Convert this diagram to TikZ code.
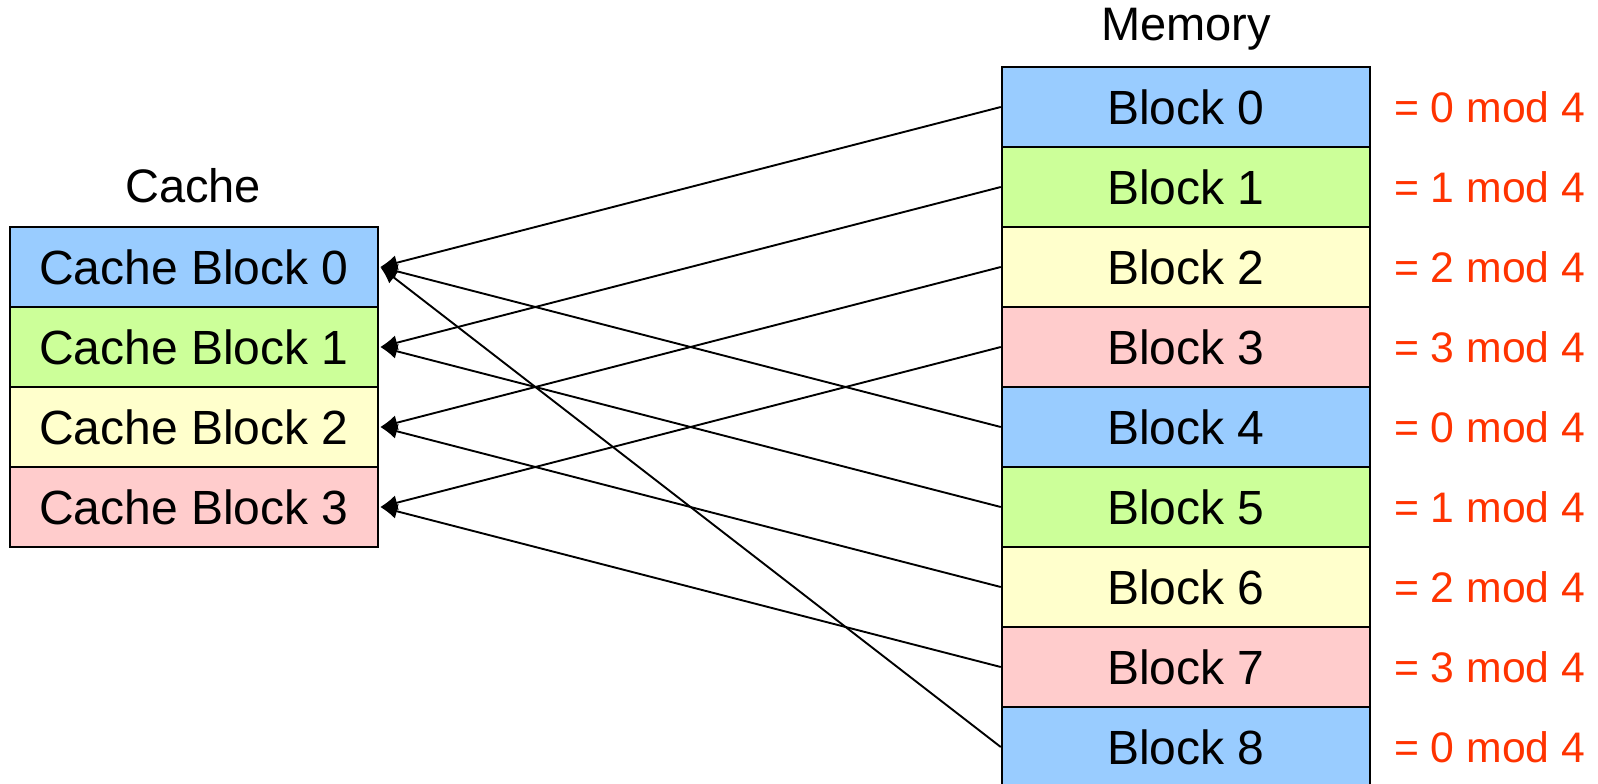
\documentclass[tikz,border=0pt]{standalone}
\usepackage{fontspec}
\setmainfont{Liberation Sans}
\usetikzlibrary{arrows.meta}
\definecolor{blkblue}{HTML}{99CCFF}
\definecolor{blkgreen}{HTML}{CCFF99}
\definecolor{blkyellow}{HTML}{FFFFCC}
\definecolor{blkpink}{HTML}{FFCCCC}
\definecolor{modred}{HTML}{FF3300}
\tikzset{
  row/.style={draw=black, line width=2.5pt, minimum width=368pt, minimum height=80pt,
    inner sep=0pt, font=\fontsize{48}{57}\selectfont},
  title/.style={font=\fontsize{47}{56}\selectfont, inner sep=0pt},
  modlabel/.style={text=modred, anchor=west, inner sep=0pt, font=\fontsize{42.7}{51}\selectfont},
  link/.style={line width=1.9pt, -{Latex[length=17pt,width=15pt]}}
}
\begin{document}
\begin{tikzpicture}[x=1pt,y=-1pt]
\useasboundingbox (0,0) rectangle (1598,784);

% cache lines
\foreach \j/\c in {0/blkblue,1/blkgreen,2/blkyellow,3/blkpink}{
  \node[row, fill=\c] (c\j) at (194,{267+80*\j}) {Cache Block \j};
}
\node[title] (cachetitle) at (193,186) {Cache};

% memory blocks
\foreach \i/\c in {0/blkblue,1/blkgreen,2/blkyellow,3/blkpink,4/blkblue,5/blkgreen,6/blkyellow,7/blkpink,8/blkblue}{
  \node[row, fill=\c] (m\i) at (1186,{107+80*\i}) {Block \i};
  \pgfmathtruncatemacro{\r}{mod(\i,4)}
  \node[modlabel] (mod\i) at (1394,{107+80*\i}) {= \r\ mod 4};
}
\node[title] (memtitle) at (1186,29) {Memory};

% direct mapping: memory block i goes to cache line i mod 4
\foreach \i in {0,...,8}{
  \pgfmathtruncatemacro{\r}{mod(\i,4)}
  \draw[link] (m\i.west) -- ([xshift=1pt]c\r.east);
}
\end{tikzpicture}
\end{document}
